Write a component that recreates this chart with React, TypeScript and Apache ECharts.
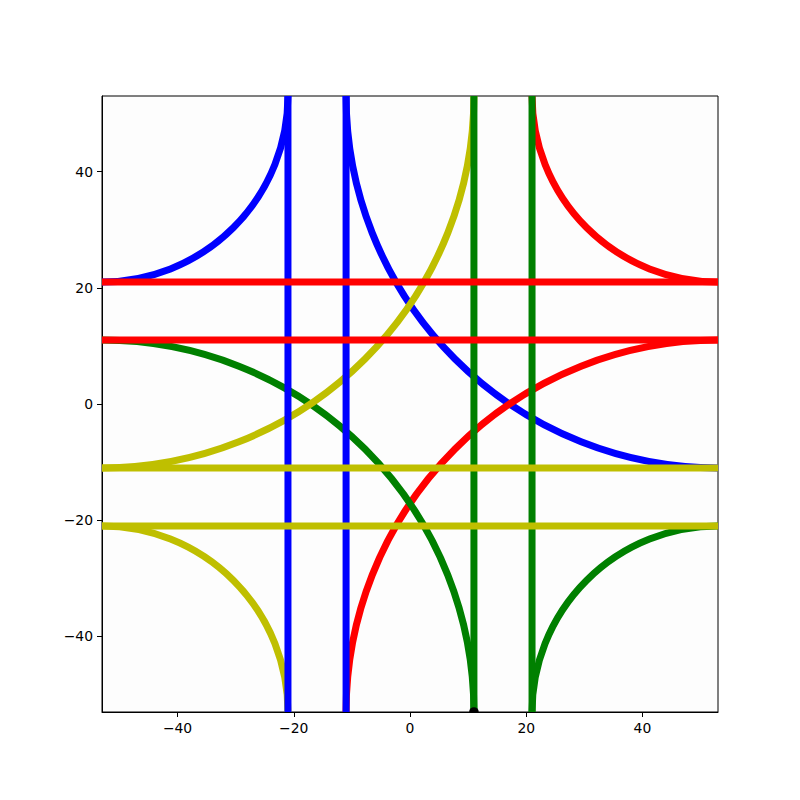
import React, { useEffect, useRef } from "react";
import * as echarts from "echarts";

// Axis limits and ticks
const axisMin = -53;
const axisMax = 53;
const tickValues = [-40, -20, 0, 20, 40];

// Arcs: [centerX, centerY, radius]
const blueArcs = [
  [-53, 53, 32],
  [53, 53, 64],
];
const redArcs = [
  [53, 53, 32],
  [53, -53, 64],
];
const greenArcs = [
  [-53, -53, 64],
  [53, -53, 32],
];
const yellowArcs = [
  [-53, -53, 32],
  [-53, 53, 64],
];

// Straight lines
const blueVerticalX = [-21, -11];
const greenVerticalX = [11, 21];
const redHorizontalY = [21, 11];
const yellowHorizontalY = [-11, -21];

// Marker point
const dotPoint = [11, -53];

const COLORS = {
  blue: "#0000ff",
  red: "#ff0000",
  green: "#008000",
  yellow: "#bfbf00",
};
const LW = 7;

function arcSeries(data: number[][], color: string) {
  return {
    type: "custom",
    coordinateSystem: "cartesian2d",
    data,
    clip: true,
    renderItem: (params: any, api: any) => {
      const cx = api.value(0);
      const cy = api.value(1);
      const r = api.value(2);
      const c = api.coord([cx, cy]);
      const e = api.coord([cx + r, cy]);
      const rp = Math.abs(e[0] - c[0]);
      let start = 0;
      if (cx < 0 && cy > 0) start = 0;
      else if (cx > 0 && cy > 0) start = Math.PI / 2;
      else if (cx > 0 && cy < 0) start = Math.PI;
      else start = (3 * Math.PI) / 2;
      return {
        type: "arc",
        shape: { cx: c[0], cy: c[1], r: rp, startAngle: start, endAngle: start + Math.PI / 2, clockwise: true },
        style: { stroke: color, lineWidth: LW, fill: null, lineCap: "butt" },
      };
    },
  };
}

function lineSeries(points: number[][], color: string) {
  return {
    type: "line",
    data: points,
    symbol: "none",
    lineStyle: { color, width: LW, cap: "butt" },
    silent: true,
  };
}

export default function App() {
  const ref = useRef<HTMLDivElement>(null);
  useEffect(() => {
    if (!ref.current) return;
    const chart = echarts.init(ref.current, null, { renderer: "svg" });
    const fmt = (v: number) => String(v).replace("-", "\u2212");
    const axisCommon = {
      type: "value",
      min: axisMin,
      max: axisMax,
      splitLine: { show: false },
      axisLine: { show: true, onZero: false, lineStyle: { color: "#000", width: 1 } },
      axisTick: { show: true, length: 5, lineStyle: { color: "#000", width: 1 }, customValues: tickValues },
      axisLabel: {
        show: true,
        color: "#000",
        fontFamily: "DejaVu Sans",
        fontSize: 13.9,
        margin: 9,
        formatter: fmt,
        customValues: tickValues,
      },
    };
    const series: any[] = [
      arcSeries(blueArcs, COLORS.blue),
      arcSeries(redArcs, COLORS.red),
      arcSeries(greenArcs, COLORS.green),
      arcSeries(yellowArcs, COLORS.yellow),
      ...blueVerticalX.map((x) => lineSeries([[x, axisMin], [x, axisMax]], COLORS.blue)),
      ...greenVerticalX.map((x) => lineSeries([[x, axisMin], [x, axisMax]], COLORS.green)),
      ...redHorizontalY.map((y) => lineSeries([[axisMin, y], [axisMax, y]], COLORS.red)),
      ...yellowHorizontalY.map((y) => lineSeries([[axisMin, y], [axisMax, y]], COLORS.yellow)),
      {
        type: "custom",
        coordinateSystem: "cartesian2d",
        data: [dotPoint],
        clip: false,
        z: 5,
        renderItem: (params: any, api: any) => {
          const c = api.coord([api.value(0), api.value(1)]);
          return {
            type: "sector",
            shape: { cx: c[0], cy: c[1], r0: 0, r: 4.8, startAngle: Math.PI, endAngle: 2 * Math.PI, clockwise: true },
            style: { fill: "#000" },
          };
        },
      },
    ];
    chart.setOption({
      animation: false,
      backgroundColor: "#ffffff",
      grid: {
        left: 102,
        right: 82,
        top: 96,
        bottom: 88,
        show: true,
        backgroundColor: "#fdfdfd",
        borderColor: "#000",
        borderWidth: 1,
      },
      xAxis: { ...axisCommon },
      yAxis: { ...axisCommon },
      series,
    });
    return () => chart.dispose();
  }, []);
  return <div ref={ref} style={{ position: "fixed", left: 0, top: 0, width: 800, height: 800 }} />;
}
